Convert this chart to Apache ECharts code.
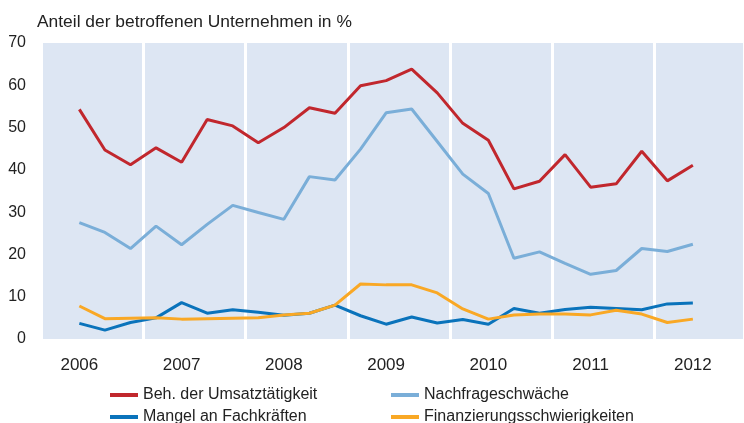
<!DOCTYPE html>
<html>
<head>
<meta charset="utf-8">
<script src="https://cdn.jsdelivr.net/npm/echarts@6/dist/echarts.min.js"></script>
<style>
  html, body { margin: 0; padding: 0; background: #fff; }
  #chart { width: 744px; height: 423px; }
</style>
</head>
<body>
<div id="chart"></div>
<script>
// Quartalswerte 2006 Q1 bis 2012 Q1 (25 Punkte)
var years = ['2006', '2007', '2008', '2009', '2010', '2011', '2012'];

var umsatz = [54.3, 44.7, 41.2, 45.2, 41.8, 51.9, 50.4, 46.4, 50.0, 54.7, 53.4, 59.9, 61.1,
    63.8, 58.2, 51.0, 47.0, 35.5, 37.3, 43.6, 35.9, 36.7, 44.4, 37.4, 41.1];
var nachfrage = [27.5, 25.2, 21.4, 26.7, 22.3, 27.1, 31.6, 29.9, 28.3, 38.4, 37.6, 44.9, 53.5,
    54.4, 46.7, 39.0, 34.4, 19.1, 20.6, 17.9, 15.3, 16.2, 21.4, 20.7, 22.4];
var fachkraefte = [3.7, 2.1, 3.9, 5.0, 8.6, 6.1, 6.9, 6.3, 5.6, 6.1, 8.0, 5.5, 3.5,
    5.2, 3.8, 4.6, 3.5, 7.2, 6.1, 7.0, 7.5, 7.2, 6.9, 8.3, 8.5];
var finanzierung = [7.8, 4.8, 4.9, 5.0, 4.7, 4.8, 4.9, 5.0, 5.7, 6.1, 8.0, 13.0, 12.8,
    12.8, 10.9, 7.1, 4.7, 5.7, 5.9, 5.9, 5.7, 6.8, 5.9, 3.9, 4.7];

var seriesNames = ['Beh. der Umsatztätigkeit', 'Nachfrageschwäche', 'Mangel an Fachkräften', 'Finanzierungsschwierigkeiten'];
var seriesColors = ['#c1272d', '#7aaed8', '#0a73bb', '#f9a825'];

// Index -> [x, y]
function toPoints(arr) {
    return arr.map(function (v, i) { return [i, v]; });
}

var chart = echarts.init(document.getElementById('chart'));

var allData = [umsatz, nachfrage, fachkraefte, finanzierung];
var series = [];
allData.forEach(function (arr, k) {
    series.push({
        name: seriesNames[k],
        type: 'line',
        data: toPoints(arr),
        showSymbol: false,
        symbol: 'none',
        lineStyle: { width: 3, color: seriesColors[k] },
        itemStyle: { color: seriesColors[k] },
        animation: false
    });
});

var legendText = { fontFamily: 'Liberation Sans', fontSize: 16, color: '#222', lineHeight: 14 };

var option = {
    animation: false,
    textStyle: { fontFamily: 'Liberation Sans' },
    title: {
        text: 'Anteil der betroffenen Unternehmen in %',
        left: 37,
        top: 14,
        padding: 0,
        textStyle: { fontFamily: 'Liberation Sans', fontSize: 17.4, fontWeight: 'normal', color: '#222' }
    },
    grid: {
        left: 41, right: 0, top: 43, bottom: 84,
        show: true, backgroundColor: '#dde6f3', borderWidth: 0
    },
    legend: [{
        data: [seriesNames[0], seriesNames[2]],
        orient: 'vertical',
        left: 110, bottom: -2,
        padding: 0,
        itemGap: 6,
        itemWidth: 28, itemHeight: 4,
        icon: 'rect',
        textStyle: legendText
    }, {
        data: [seriesNames[1], seriesNames[3]],
        orient: 'vertical',
        left: 391, bottom: -2,
        padding: 0,
        itemGap: 6,
        itemWidth: 28, itemHeight: 4,
        icon: 'rect',
        textStyle: legendText
    }],
    xAxis: {
        type: 'value',
        min: -1.5,
        max: 26,
        interval: 4,
        axisLine: { show: false },
        axisTick: { show: false },
        splitLine: { show: true, lineStyle: { color: '#ffffff', width: 3 } },
        axisLabel: {
            customValues: [0, 4, 8, 12, 16, 20, 24],
            formatter: function (v) { return years[Math.round(v / 4)]; },
            fontSize: 17,
            color: '#222',
            margin: 18
        }
    },
    yAxis: {
        type: 'value',
        min: 0,
        max: 70,
        interval: 10,
        axisLine: { show: false },
        axisTick: { show: false },
        splitLine: { show: false },
        axisLabel: { fontSize: 16, color: '#222', margin: 15 }
    },
    series: series
};

chart.setOption(option);
</script>
</body>
</html>
